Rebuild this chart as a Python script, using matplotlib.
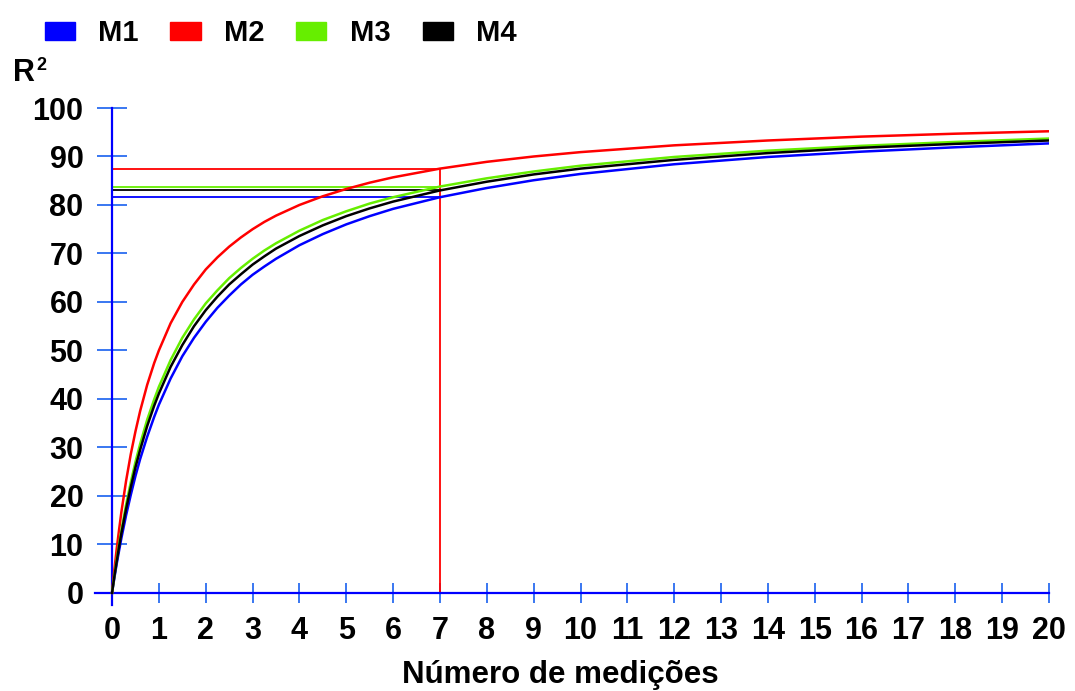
import matplotlib
matplotlib.use("Agg")
import matplotlib.pyplot as plt
from matplotlib.patches import Patch

plt.rcParams['font.family'] = ['Liberation Sans', 'DejaVu Sans']
plt.rcParams['font.weight'] = 'bold'

n = [0, 0.05, 0.1, 0.15, 0.2, 0.3, 0.4, 0.5, 0.6, 0.75, 0.9, 1, 1.25, 1.5, 1.75,
     2, 2.25, 2.5, 2.75, 3, 3.25, 3.5, 4, 4.5, 5, 5.5, 6, 7,
     8, 9, 10, 12, 14, 16, 18, 20]
m1 = [0, 3.1, 6.0, 8.7, 11.3, 16.0, 20.2, 24.1, 27.6, 32.2, 36.3, 38.8, 44.2,
      48.8, 52.6, 55.9, 58.8, 61.3, 63.6, 65.6, 67.3, 68.9, 71.7, 74.0, 76.0,
      77.7, 79.2, 81.6, 83.5, 85.1, 86.4, 88.4, 89.9, 91.0, 91.9, 92.7]
m2 = [0, 4.8, 9.1, 13.0, 16.7, 23.1, 28.6, 33.3, 37.5, 42.9, 47.4, 50.0, 55.6,
      60.0, 63.6, 66.7, 69.2, 71.4, 73.3, 75.0, 76.5, 77.8, 80.0, 81.8, 83.3,
      84.6, 85.7, 87.5, 88.9, 90.0, 90.9, 92.3, 93.3, 94.1, 94.7, 95.2]
m3 = [0, 3.6, 6.9, 10.0, 12.9, 18.2, 22.8, 27.0, 30.7, 35.7, 39.9, 42.5, 48.0,
      52.6, 56.4, 59.7, 62.4, 64.9, 67.0, 68.9, 70.6, 72.1, 74.7, 76.9, 78.7,
      80.3, 81.6, 83.8, 85.5, 86.9, 88.1, 89.9, 91.2, 92.2, 93.0, 93.7]
m4 = [0, 3.4, 6.5, 9.5, 12.3, 17.3, 21.8, 25.9, 29.5, 34.4, 38.6, 41.1, 46.6,
      51.1, 55.0, 58.3, 61.1, 63.6, 65.7, 67.7, 69.4, 71.0, 73.6, 75.8, 77.7,
      79.3, 80.7, 83.0, 84.8, 86.3, 87.5, 89.3, 90.7, 91.8, 92.6, 93.3]

names = ['M1', 'M2', 'M3', 'M4']
series = [m1, m2, m3, m4]
colors = ['#0000ff', '#ff0000', '#66ee00', '#000000']
n_ref = 7  # chosen number of measurements
xticks = list(range(0, 21))
yticks = list(range(0, 101, 10))

fig = plt.figure(figsize=(10.75, 6.91), dpi=100)
ax = fig.add_axes([0.0884, 0.1245, 0.8874, 0.7192])

# reference lines at n = 7
for vals, c in zip(series, colors):
    v = vals[n.index(n_ref)]
    ax.plot([0, n_ref], [v, v], color=c, lw=1.3, zorder=2)
ax.plot([n_ref, n_ref], [0, m2[n.index(n_ref)]], color='#ff0000', lw=1.3, zorder=2)

for vals, c in zip(series, colors):
    ax.plot(n, vals, color=c, lw=1.8, zorder=3)

ax.set_xlim(-0.363, 20.0)
ax.set_ylim(-2.5, 100)
for s in ['top', 'right']:
    ax.spines[s].set_visible(False)
ax.spines['bottom'].set_position(('data', 0))
ax.spines['left'].set_position(('data', 0))
for s in ['bottom', 'left']:
    ax.spines[s].set_color('#0000ff')
    ax.spines[s].set_linewidth(1.6)

ax.set_xticks(xticks)
ax.set_yticks(yticks)
ax.tick_params(axis='x', direction='inout', length=14, width=1.3, color='#2a6cf0',
               labelsize=22, pad=10)
ax.tick_params(axis='y', direction='inout', length=21, width=1.3, color='#2a6cf0',
               labelsize=22, pad=10)
for lbl in ax.get_xticklabels() + ax.get_yticklabels():
    lbl.set_fontweight('bold')

fig.text(0.521, 0.023, 'Número de medições', ha='center', va='center',
         fontsize=22.5, fontweight='bold')
fig.text(0.012, 0.873, 'R', ha='left', va='bottom', fontsize=22, fontweight='bold')
fig.text(0.034, 0.893, '2', ha='left', va='bottom', fontsize=13, fontweight='bold')

handles = [Patch(facecolor=c, edgecolor=c) for c in colors]
fig.legend(handles, names, loc='upper left', bbox_to_anchor=(0.017, 1.01), ncol=4,
           frameon=False, handlelength=1.03, handleheight=0.55,
           handletextpad=0.8, columnspacing=1.1, prop={'weight': 'bold', 'size': 21})

fig.savefig('out.png', dpi=100, facecolor='white')
